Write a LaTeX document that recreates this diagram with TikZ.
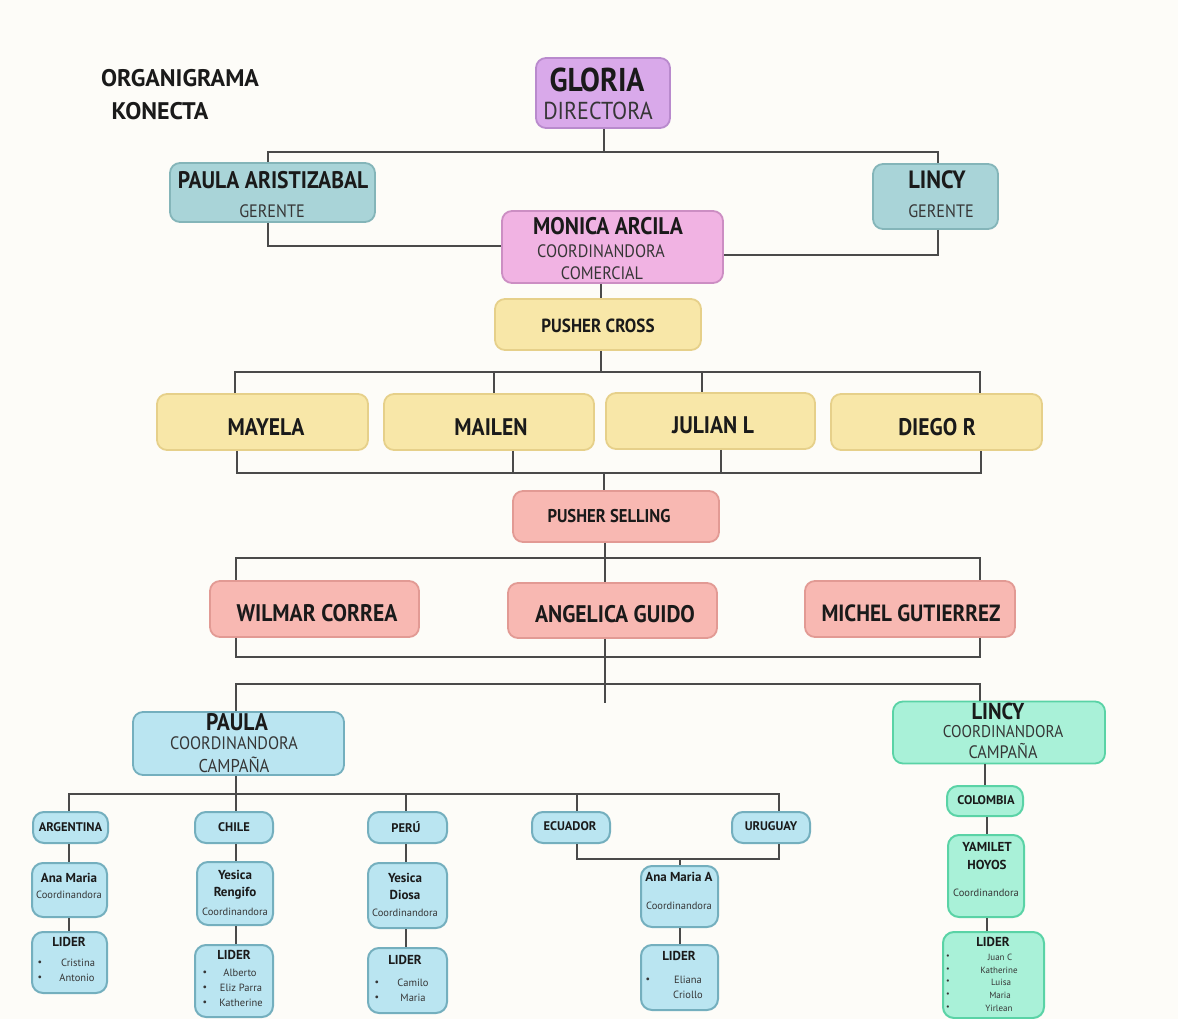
\documentclass[tikz,border=0pt]{standalone}
\usepackage{fontspec}
\setmainfont{PT Sans}
\newfontfamily\cond{PT Sans}[FakeStretch=0.9]
\newcommand\fsz[1]{\fontsize{#1}{#1}\selectfont}
\definecolor{bg}{HTML}{FDFCF8}
\definecolor{ink}{HTML}{1A1A1A}
\definecolor{sub}{HTML}{363636}
\definecolor{wire}{HTML}{4A4A4A}
\definecolor{purF}{HTML}{D9A9EA}\definecolor{purD}{HTML}{B98ACD}
\definecolor{tealF}{HTML}{A9D4D8}\definecolor{tealD}{HTML}{84B5B9}
\definecolor{pinkF}{HTML}{F1B3E3}\definecolor{pinkD}{HTML}{CC8EC3}
\definecolor{yelF}{HTML}{F8E7A8}\definecolor{yelD}{HTML}{E6D08A}
\definecolor{salF}{HTML}{F8B8B2}\definecolor{salD}{HTML}{E29A94}
\definecolor{bluF}{HTML}{BAE5F1}\definecolor{bluD}{HTML}{74AFBE}
\definecolor{minF}{HTML}{A9F1D8}\definecolor{minD}{HTML}{5AD3A6}
\begin{document}
\begin{tikzpicture}[x=1pt,y=-1pt,
  box/.style={draw, rounded corners=10pt, line width=1.8pt, inner sep=0pt},
  sbox/.style={box, rounded corners=11pt, line width=2pt},
  pur/.style={fill=purF, draw=purD},
  teal/.style={fill=tealF, draw=tealD},
  pnk/.style={fill=pinkF, draw=pinkD},
  yel/.style={fill=yelF, draw=yelD},
  sal/.style={fill=salF, draw=salD},
  blu/.style={fill=bluF, draw=bluD},
  mnt/.style={fill=minF, draw=minD},
  tx/.style={inner sep=0pt, text=ink},
  hb/.style={tx, font=\cond\bfseries\fsz{#1}},
  hr/.style={tx, text=sub, font=\cond\fsz{#1}},
  sb/.style={tx, font=\bfseries\fsz{#1}},
  sr/.style={tx, text=sub, font=\fsz{#1}},
  wr/.style={draw=wire, line width=1.8pt}]
\fill[bg] (0,0) rectangle (1178,1019);
\useasboundingbox (0,0) rectangle (1178,1019);

% title
\node[sb=24] (t1) at (180,78) {ORGANIGRAMA};
\node[sb=24] (t2) at (160,111) {KONECTA};

% boxes
\node[box,pur,minimum width=134,minimum height=70] (gloria) at (603,93) {};
\node[box,teal,minimum width=205,minimum height=59] (paulaG) at (272.5,192.5) {};
\node[box,teal,minimum width=125,minimum height=65] (lincyG) at (935.5,196.5) {};
\node[box,pnk,minimum width=221,minimum height=72] (monica) at (612.5,247) {};
\node[box,yel,minimum width=206,minimum height=51] (pusherC) at (598,324.5) {};
\node[box,yel,minimum width=211,minimum height=56] (mayela) at (262.5,422) {};
\node[box,yel,minimum width=210,minimum height=56] (mailen) at (489,422) {};
\node[box,yel,minimum width=209,minimum height=56] (julian) at (710.5,421) {};
\node[box,yel,minimum width=211,minimum height=56] (diego) at (936.5,422) {};
\node[box,sal,minimum width=206,minimum height=51] (pusherS) at (616,516.5) {};
\node[box,sal,minimum width=209,minimum height=56] (wilmar) at (314.5,609) {};
\node[box,sal,minimum width=209,minimum height=55] (angelica) at (612.5,610.5) {};
\node[box,sal,minimum width=210,minimum height=56] (michel) at (910,609) {};
\node[box,blu,minimum width=211,minimum height=63] (paulaC) at (238.5,743.5) {};
\node[box,mnt,minimum width=212,minimum height=62] (lincyC) at (999,732.5) {};

\node[sbox,blu,minimum width=75,minimum height=31] (arg) at (70.5,827.5) {};
\node[sbox,blu,minimum width=78,minimum height=31] (chile) at (234,827.5) {};
\node[sbox,blu,minimum width=79,minimum height=31] (peru) at (407.5,827.5) {};
\node[sbox,blu,minimum width=78,minimum height=31] (ecu) at (571,827.5) {};
\node[sbox,blu,minimum width=78,minimum height=31] (uru) at (771,827.5) {};
\node[sbox,mnt,minimum width=76,minimum height=30] (col) at (985,801) {};

\node[sbox,blu,minimum width=75,minimum height=54] (anam) at (69.5,890) {};
\node[sbox,blu,minimum width=76,minimum height=63] (yesR) at (235,893.5) {};
\node[sbox,blu,minimum width=79,minimum height=65] (yesD) at (407.5,895.5) {};
\node[sbox,blu,minimum width=77,minimum height=61] (anamA) at (679.5,896.5) {};
\node[sbox,mnt,minimum width=76,minimum height=82] (yam) at (986,876) {};

\node[sbox,blu,minimum width=75,minimum height=61] (lArg) at (69.5,962.5) {};
\node[sbox,blu,minimum width=78,minimum height=72] (lChi) at (234,981) {};
\node[sbox,blu,minimum width=79,minimum height=65] (lPer) at (407.5,980.5) {};
\node[sbox,blu,minimum width=77,minimum height=65] (lEcu) at (679.5,977.5) {};
\node[sbox,mnt,minimum width=101,minimum height=86] (lCol) at (993.5,975) {};

% texts
\node[hb=33] (gloria-a) at (597,80) {GLORIA};
\node[hr=24.5] (gloria-b) at (598,111) {DIRECTORA};
\node[hb=24] (paulaG-a) at (273,180) {PAULA ARISTIZABAL};
\node[hr=18] (paulaG-b) at (272,211) {GERENTE};
\node[hb=25] (lincyG-a) at (937,180) {LINCY};
\node[hr=18] (lincyG-b) at (941,211) {GERENTE};
\node[hb=24] (monica-a) at (608,226) {MONICA ARCILA};
\node[hr=18] (monica-b) at (601,251) {COORDINANDORA};
\node[hr=18] (monica-c) at (602,273) {COMERCIAL};
\node[hb=19] (pusherC-a) at (598,326) {PUSHER CROSS};
\node[hb=24] (mayela-a) at (266,427) {MAYELA};
\node[hb=24] (mailen-a) at (491,427) {MAILEN};
\node[hb=24] (julian-a) at (713,425) {JULIAN L};
\node[hb=24] (diego-a) at (937,427) {DIEGO R};
\node[hb=18.5] (pusherS-a) at (609,516) {PUSHER SELLING};
\node[hb=24] (wilmar-a) at (317,613) {WILMAR CORREA};
\node[hb=24] (angelica-a) at (615,614) {ANGELICA GUIDO};
\node[hb=23.5] (michel-a) at (911,613) {MICHEL GUTIERREZ};
\node[hb=24] (paulaC-a) at (237,722) {PAULA};
\node[hr=18] (paulaC-b) at (234,743) {COORDINANDORA};
\node[hr=18.5] (paulaC-c) at (234,765) {CAMPAÑA};
\node[hb=23] (lincyC-a) at (998,711) {LINCY};
\node[hr=17] (lincyC-b) at (1003,731.5) {COORDINANDORA};
\node[hr=18] (lincyC-c) at (1003,751) {CAMPAÑA};

\node[sb=12.5] (arg-a) at (70.5,827.5) {ARGENTINA};
\node[sb=12.5] (chile-a) at (234,827.5) {CHILE};
\node[sb=12.5] (peru-a) at (406,827.5) {PERÚ};
\node[sb=12.5] (ecu-a) at (570,826.5) {ECUADOR};
\node[sb=12.5] (uru-a) at (771,826.5) {URUGUAY};
\node[sb=12.5] (col-a) at (986,800) {COLOMBIA};

\node[sb=13] (anam-a) at (69,878) {Ana Maria};
\node[sr=10.5] (anam-b) at (69,895) {Coordinandora};
\node[sb=13] (yesR-a) at (235,875) {Yesica};
\node[sb=13] (yesR-b) at (235,893) {Rengifo};
\node[sr=10.5] (yesR-c) at (235,912) {Coordinandora};
\node[sb=13] (yesD-a) at (405,878) {Yesica};
\node[sb=13] (yesD-b) at (405,895) {Diosa};
\node[sr=10.5] (yesD-c) at (405,913) {Coordinandora};
\node[sb=13] (anamA-a) at (679,877) {Ana Maria A};
\node[sr=10.5] (anamA-b) at (679,906) {Coordinandora};
\node[sb=13] (yam-a) at (987,847) {YAMILET};
\node[sb=13] (yam-b) at (987,865) {HOYOS};
\node[sr=10.5] (yam-c) at (986,893) {Coordinandora};

\node[sb=13] (lArg-a) at (69,942) {LIDER};
\node[sr=10] (lArg-d1) at (40,963) {\textbullet};
\node[sr=10] (lArg-d2) at (40,978) {\textbullet};
\node[sr=10.5] (lArg-b) at (78,963) {Cristina};
\node[sr=10.5] (lArg-c) at (77,978) {Antonio};

\node[sb=13] (lChi-a) at (234,955) {LIDER};
\node[sr=10] (lChi-d1) at (205,973) {\textbullet};
\node[sr=10] (lChi-d2) at (205,988) {\textbullet};
\node[sr=10] (lChi-d3) at (205,1003) {\textbullet};
\node[sr=10.5] (lChi-b) at (240,973) {Alberto};
\node[sr=10.5] (lChi-c) at (241,988) {Eliz Parra};
\node[sr=10.5] (lChi-e) at (241,1003) {Katherine};

\node[sb=13] (lPer-a) at (405,960) {LIDER};
\node[sr=10] (lPer-d1) at (377,983) {\textbullet};
\node[sr=10] (lPer-d2) at (377,998) {\textbullet};
\node[sr=10.5] (lPer-b) at (413,983) {Camilo};
\node[sr=10.5] (lPer-c) at (413,998) {Maria};

\node[sb=13] (lEcu-a) at (679,956) {LIDER};
\node[sr=10] (lEcu-d1) at (648,980) {\textbullet};
\node[sr=10.5] (lEcu-b) at (688,980) {Eliana};
\node[sr=10.5] (lEcu-c) at (688,995) {Criollo};

\node[sb=13] (lCol-a) at (993,942) {LIDER};
\foreach \yy [count=\k] in {957,970,982,995,1008}{
  \node[sr=8] (lCol-d\k) at (948,\yy) {\textbullet};}
\node[sr=9] (lCol-b) at (1000,957) {Juan C};
\node[sr=9] (lCol-c) at (999,970) {Katherine};
\node[sr=9] (lCol-e) at (1001,982) {Luisa};
\node[sr=9] (lCol-f) at (1000,995) {Maria};
\node[sr=9] (lCol-g) at (999,1008) {Yirlean};

% junction coordinates
\coordinate (j1) at (604,152);
\coordinate (jPG) at (268,152);
\coordinate (jLG) at (938,152);
\coordinate (jMw) at (268,246);
\coordinate (jMe) at (938,255);
\coordinate (jC) at (601,372);
\coordinate (jC1) at (235,372);
\coordinate (jC2) at (494,372);
\coordinate (jC3) at (702,372);
\coordinate (jC4) at (980,372);
\coordinate (jD) at (604,473);
\coordinate (jD1) at (237,473);
\coordinate (jD2) at (513,473);
\coordinate (jD3) at (721,473);
\coordinate (jD4) at (981,473);
\coordinate (jE1) at (236,558);
\coordinate (jE2) at (980,558);
\coordinate (jF1) at (236,657);
\coordinate (jF2) at (980,657);
\coordinate (jG) at (605,703);
\coordinate (jG1) at (236,684);
\coordinate (jG2) at (980,684);
\coordinate (jH) at (236,794);
\coordinate (jH1) at (69,794);
\coordinate (jH3) at (406,794);
\coordinate (jH4) at (577,794);
\coordinate (jH5) at (779,794);
\coordinate (jK1) at (577,859);
\coordinate (jK2) at (779,859);
\coordinate (jK) at (680,859);
\coordinate (jM) at (601,300);
\coordinate (jL1) at (985,700);
\coordinate (jL2) at (987,800);

% connectors
\draw[wr] (gloria.south -| j1) -- (j1);
\draw[wr] (paulaG.north -| jPG) -- (jPG) -- (jLG) -- (lincyG.north -| jLG);
\draw[wr] (paulaG.south -| jMw) -- (jMw) -- (monica.west |- jMw);
\draw[wr] (lincyG.south -| jMe) -- (jMe) -- (monica.east |- jMe);
\draw[wr] (monica.south -| jM) -- (pusherC.north -| jM);
\draw[wr] (pusherC.south -| jC) -- (jC);
\draw[wr] (mayela.north -| jC1) -- (jC1) -- (jC4) -- (diego.north -| jC4);
\draw[wr] (jC2) -- (mailen.north -| jC2);
\draw[wr] (jC3) -- (julian.north -| jC3);
\draw[wr] (mayela.south -| jD1) -- (jD1) -- (jD4) -- (diego.south -| jD4);
\draw[wr] (mailen.south -| jD2) -- (jD2);
\draw[wr] (julian.south -| jD3) -- (jD3);
\draw[wr] (jD) -- (pusherS.north -| jD);
\draw[wr] (pusherS.south -| jG) -- (angelica.north -| jG);
\draw[wr] (wilmar.north -| jE1) -- (jE1) -- (jE2) -- (michel.north -| jE2);
\draw[wr] (wilmar.south -| jF1) -- (jF1) -- (jF2) -- (michel.south -| jF2);
\draw[wr] (angelica.south -| jG) -- (jG);
\draw[wr] (paulaC.north -| jG1) -- (jG1) -- (jG2) -- (lincyC.north -| jG2);
\draw[wr] (paulaC.south -| jH) -- (jH);
\draw[wr] (arg.north -| jH1) -- (jH1) -- (jH5) -- (uru.north -| jH5);
\draw[wr] (jH) -- (chile.north -| jH);
\draw[wr] (jH3) -- (peru.north -| jH3);
\draw[wr] (jH4) -- (ecu.north -| jH4);
\draw[wr] (ecu.south -| jK1) -- (jK1) -- (jK2) -- (uru.south -| jK2);
\draw[wr] (jK) -- (anamA.north -| jK);
\draw[wr] (arg.south -| jH1) -- (anam.north -| jH1);
\draw[wr] (anam.south -| jH1) -- (lArg.north -| jH1);
\draw[wr] (chile.south -| jH) -- (yesR.north -| jH);
\draw[wr] (yesR.south -| jH) -- (lChi.north -| jH);
\draw[wr] (peru.south -| jH3) -- (yesD.north -| jH3);
\draw[wr] (yesD.south -| jH3) -- (lPer.north -| jH3);
\draw[wr] (anamA.south -| jK) -- (lEcu.north -| jK);
\draw[wr] (lincyC.south -| jL1) -- (col.north -| jL1);
\draw[wr] (col.south -| jL2) -- (yam.north -| jL2);
\draw[wr] (yam.south -| jL2) -- (lCol.north -| jL2);
\end{tikzpicture}
\end{document}
